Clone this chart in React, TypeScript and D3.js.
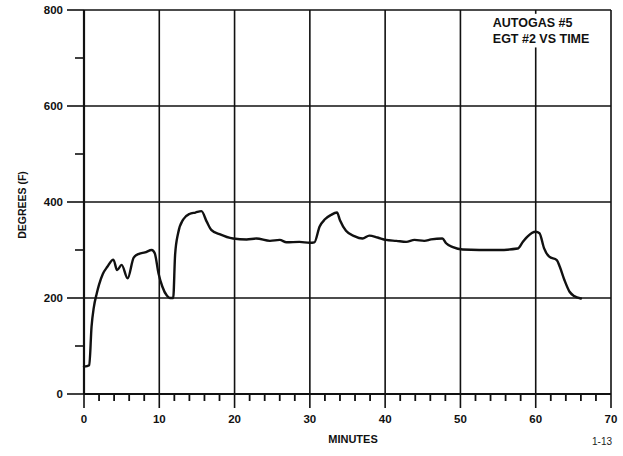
import React from 'react';
import * as d3 from 'd3';

// EGT #2 trace
const minutes = [0, 0.7, 1.0, 1.3, 1.7, 2.0, 2.5, 3.1, 3.9, 4.4, 5.0, 5.8, 6.6, 7.3, 8.1, 9.0, 9.4, 9.9, 10.4, 11.0, 11.4, 11.85, 12.1, 12.5, 13.2, 14.0, 14.8, 15.6, 16.3, 16.9, 18.0, 19.8, 21.6, 22.9, 24.7, 26.0, 26.9, 28.6, 30.0, 30.6, 31.3, 32.0, 32.8, 33.6, 34.0, 34.8, 35.9, 37.0, 37.9, 39.0, 40.1, 41.5, 42.8, 43.9, 45.2, 46.1, 47.6, 48.1, 49.0, 50.3, 52.5, 55.0, 57.6, 58.3, 58.9, 60.0, 60.5, 61.1, 61.8, 62.8, 63.2, 63.8, 64.5, 65.1, 66.0];
const degrees = [57, 60, 140, 180, 210, 228, 250, 265, 280, 258, 269, 241, 284, 292, 295, 300, 293, 251, 224, 205, 200, 200, 290, 335, 364, 375, 378, 381, 359, 342, 333, 324, 322, 324, 319, 321, 316, 317, 315, 316, 349, 364, 373, 378, 362, 340, 329, 324, 330, 326, 321, 319, 317, 321, 319, 322, 324, 314, 306, 301, 300, 300, 303, 317, 328, 338, 335, 304, 286, 279, 265, 238, 213, 204, 199];

const xTicks = [0, 10, 20, 30, 40, 50, 60, 70];
const xMinor = d3.range(0, 70, 2).filter((d) => d % 10 !== 0);
const yTicks = [0, 200, 400, 600, 800];
const yMinor = [100, 300, 500, 700];
const titleLines = ['AUTOGAS #5', 'EGT #2 VS TIME'];

const W = 623, H = 456;
const font = '"Liberation Sans", Arial, sans-serif';

const App: React.FC = () => {
  const x = d3.scaleLinear().domain([0, 70]).range([84, 611]);
  const y = d3.scaleLinear().domain([0, 800]).range([394, 10]);
  const pts = minutes.map((m, i) => [m, degrees[i]] as [number, number]);
  const line = d3.line<[number, number]>()
    .x((d) => x(d[0]))
    .y((d) => y(d[1]))
    .curve(d3.curveMonotoneX);

  return (
    <svg width={W} height={H} style={{ position: 'absolute', left: 0, top: 0, background: '#fff' }} fontFamily={font}>
      {/* grid */}
      {yTicks.slice(1).map((t) => (
        <line key={'h' + t} x1={x(0)} x2={x(70)} y1={y(t)} y2={y(t)} stroke="#111" strokeWidth={1.4} />
      ))}
      {xTicks.slice(1).map((t) => (
        <line key={'v' + t} x1={x(t)} x2={x(t)} y1={y(0)} y2={y(800)} stroke="#111" strokeWidth={1.6} />
      ))}

      {/* title block sits over the top of the 60 min grid line */}
      <rect x={x(54.2)} y={y(792)} width={x(64.5) - x(54.2)} height={y(722) - y(792)} fill="#fff" />
      {titleLines.map((s, i) => (
        <text key={s} x={x(54.3)} y={27 + i * 16} fontSize={12.5} fontWeight="bold" fill="#111">{s}</text>
      ))}

      {/* axes */}
      <line x1={x(0)} x2={x(0)} y1={y(0)} y2={y(800)} stroke="#111" strokeWidth={2.2} />
      <line x1={x(0)} x2={x(70)} y1={y(0)} y2={y(0)} stroke="#111" strokeWidth={2.2} />

      {yTicks.map((t) => (
        <g key={'yt' + t}>
          <line x1={x(0) - 17} x2={x(0)} y1={y(t)} y2={y(t)} stroke="#111" strokeWidth={1.6} />
          <text x={x(0) - 21} y={y(t)} dy="0.35em" textAnchor="end" fontSize={11.5} fontWeight="bold" fill="#111">{t}</text>
        </g>
      ))}
      {yMinor.map((t) => (
        <line key={'ym' + t} x1={x(0) - 9} x2={x(0)} y1={y(t)} y2={y(t)} stroke="#111" strokeWidth={1.6} />
      ))}

      {xTicks.map((t) => (
        <g key={'xt' + t}>
          <line x1={x(t)} x2={x(t)} y1={y(0)} y2={y(0) + 14} stroke="#111" strokeWidth={1.6} />
          <text x={x(t)} y={423} textAnchor="middle" fontSize={11.5} fontWeight="bold" fill="#111">{t}</text>
        </g>
      ))}
      {xMinor.map((t) => (
        <line key={'xm' + t} x1={x(t)} x2={x(t)} y1={y(0)} y2={y(0) + 7} stroke="#111" strokeWidth={1.8} />
      ))}

      <text x={353} y={443} textAnchor="middle" fontSize={11} fontWeight="bold" fill="#111">MINUTES</text>
      <text x={602} y={445} textAnchor="middle" fontSize={10} fill="#222">1-13</text>
      <text transform={`translate(26,205) rotate(-90)`} textAnchor="middle" fontSize={10.5} fontWeight="bold" fill="#111">DEGREES (F)</text>

      {/* trace */}
      <path d={line(pts) ?? ''} fill="none" stroke="#111" strokeWidth={2.4} strokeLinejoin="round" strokeLinecap="round" />
    </svg>
  );
};

export default App;
